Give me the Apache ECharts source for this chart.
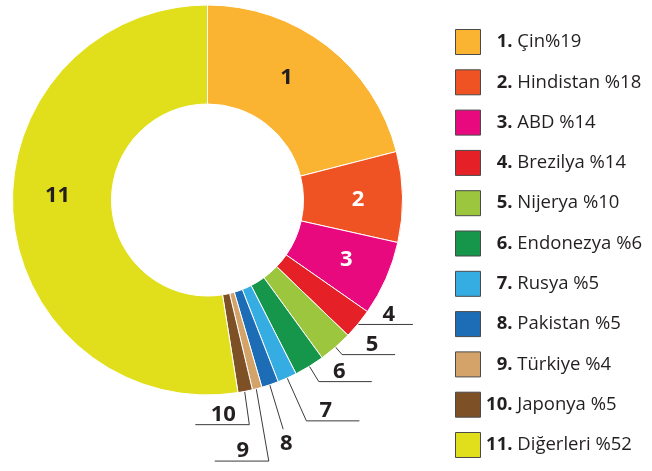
<!DOCTYPE html>
<html>
<head>
<meta charset="utf-8">
<script src="https://cdn.jsdelivr.net/npm/echarts@6/dist/echarts.min.js"></script>
<style>
html,body{margin:0;padding:0;background:#fff;}
#c{width:652px;height:471px;}
</style>
</head>
<body>
<div id="c"></div>
<script>
// ---- data ----
const nums = ['1', '2', '3', '4', '5', '6', '7', '8', '9', '10', '11'];
const countries = ['Çin', 'Hindistan', 'ABD', 'Brezilya', 'Nijerya', 'Endonezya', 'Rusya', 'Pakistan', 'Türkiye', 'Japonya', 'Diğerleri'];
const legendPct = ['%19', ' %18', ' %14', ' %14', ' %10', ' %6', ' %5', ' %5', ' %4', ' %5', ' %52'];
const shares = [21, 7.5, 6.2, 2.5, 2.8, 2.5, 1.6, 1.4, 0.8, 1.2, 52.5];

// ---- styles ----
const colors = ['#FBB432', '#EF5323', '#E8097F', '#E52127', '#9CC63D', '#15964A', '#35ADE3', '#1C6DB5', '#D3A36A', '#7E5025', '#E1DF1B'];
const insideLabel = [true, true, true, false, false, false, false, false, false, false, true];
const insideColor = ['#231f20', '#ffffff', '#ffffff', null, null, null, null, null, null, null, '#231f20'];
const labelDx = [-12, 2, 3, 3, 3.5, -6, -7, 3, 1, 1, -2];
const labelDy = [-5, 2.5, 0, 0, 0, 0, 0, 0, 0, 0, -16];
const leadLen = [0, 0, 0, 1, 10, 18, 47, 47, 75, 34, 0];
const leadLen2 = [0, 0, 0, 54, 53, 53, 53, 0, 54, 54, 0];
const leadSide = [1, 1, 1, 1, 1, 1, 1, 1, -1, -1, 1];
const leadBendDx = [0, 0, 0, 0, 0, 0, 0, -2, -7.5, -2.5, 0];
const CENTER = [207.5, 200];
const R_IN = 96, R_OUT = 195;
const textColor = '#231f20';

const chart = echarts.init(document.getElementById('c'), null, {renderer: 'canvas'});

const data = countries.map((name, i) => ({
  name: name,
  value: shares[i],
  itemStyle: {color: colors[i]},
  label: insideLabel[i]
    ? {position: 'inside', color: insideColor[i]}
    : {position: 'outside', color: textColor},
  labelLine: insideLabel[i]
    ? {show: false}
    : {show: true, length: leadLen[i], length2: Math.max(leadLen2[i], 1)}
}));

chart.setOption({
  animation: false,
  legend: {
    orient: 'vertical',
    left: 455,
    top: 29,
    padding: 0,
    itemWidth: 25,
    itemHeight: 25,
    itemGap: 14.3,
    icon: 'rect',
    selectedMode: false,
    itemStyle: {borderColor: '#4a4a4a', borderWidth: 1},
    data: countries,
    formatter: function (name) {
      const i = countries.indexOf(name);
      return '{n|' + nums[i] + '.}{t| ' + name + legendPct[i] + '}';
    },
    textStyle: {
      rich: {
        n: {fontFamily: 'Open Sans', fontWeight: 'bold', fontSize: 18.5, color: textColor, width: 27, align: 'right', lineHeight: 22},
        t: {fontFamily: 'Open Sans', fontSize: 18.5, color: textColor, align: 'right', lineHeight: 22}
      }
    }
  },
  series: [{
    type: 'pie',
    center: CENTER,
    radius: [R_IN, R_OUT],
    startAngle: 90,
    clockwise: true,
    avoidLabelOverlap: false,
    silent: true,
    emphasis: {disabled: true},
    itemStyle: {borderColor: '#ffffff', borderWidth: 1},
    label: {
      formatter: p => nums[p.dataIndex],
      fontFamily: 'Open Sans',
      fontWeight: 'bold',
      fontSize: 22
    },
    labelLine: {
      smooth: false,
      lineStyle: {color: '#3a3a3a', width: 1}
    },
    labelLayout: function (params) {
      const i = params.dataIndex;
      const r = params.labelRect;
      if (insideLabel[i]) {
        return {
          x: r.x + r.width / 2 + labelDx[i],
          y: r.y + r.height / 2 + labelDy[i],
          align: 'center',
          verticalAlign: 'middle'
        };
      }
      const pts = params.labelLinePoints;
      if (!pts) return {};
      const p0 = pts[0];
      const p1 = [pts[1][0] + leadBendDx[i], pts[1][1]];
      let dx = p0[0] - CENTER[0], dy = p0[1] - CENTER[1];
      const L = Math.hypot(dx, dy) || 1;
      dx /= L; dy /= L;
      const q0 = [p0[0] - dx * 11, p0[1] - dy * 11];
      const len2 = leadLen2[i];
      const side = leadSide[i];
      if (len2 > 0) {
        const q2 = [p1[0] + side * len2, p1[1]];
        return {
          x: p1[0] + side * len2 / 2 + labelDx[i],
          y: p1[1] - 10,
          align: 'center',
          verticalAlign: 'middle',
          labelLinePoints: [q0, p1, q2]
        };
      }
      return {
        x: p1[0] + labelDx[i],
        y: p1[1] + 15,
        align: 'center',
        verticalAlign: 'middle',
        labelLinePoints: [q0, p1, [p1[0], p1[1]]]
      };
    },
    data: data
  }]
});
</script>
</body>
</html>
